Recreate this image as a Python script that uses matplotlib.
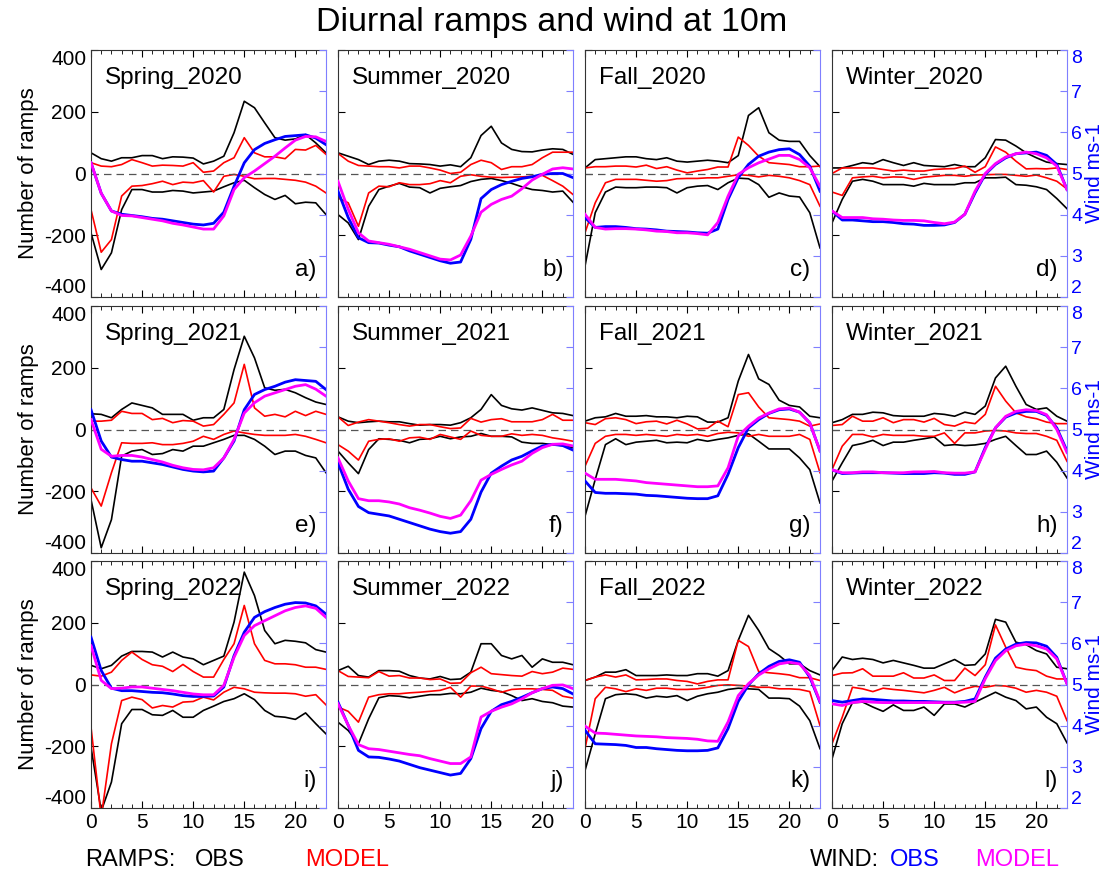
import matplotlib
matplotlib.use("Agg")
import matplotlib.pyplot as plt

plt.rcParams['font.family'] = ['Liberation Sans', 'DejaVu Sans']
plt.rcParams['axes.unicode_minus'] = False

hours = list(range(24))
seasons = ['Spring', 'Summer', 'Fall', 'Winter']
years = ['2020', '2021', '2022']
letters = ['a)', 'b)', 'c)', 'd)', 'e)', 'f)', 'g)', 'h)', 'i)', 'j)', 'k)', 'l)']
ramp_ticks = [-400, -200, 0, 200, 400]
wind_ticks = [2, 3, 4, 5, 6, 7, 8]

# ramps, observed, upward (upper black line)
obs_up = [
    [67, 48, 40, 51, 51, 58, 58, 48, 54, 53, 50, 31, 40, 56, 132, 234, 213, 164, 116, 108, 112, 126, 99, 67],
    [67, 56, 45, 29, 40, 43, 40, 32, 31, 29, 24, 28, 22, 51, 123, 153, 99, 78, 71, 70, 76, 80, 78, 62],
    [18, 45, 48, 51, 54, 54, 48, 45, 51, 40, 37, 40, 43, 40, 35, 58, 188, 213, 132, 108, 104, 104, 58, 22],
    [18, 18, 26, 35, 31, 45, 35, 26, 35, 26, 24, 22, 29, 22, 22, 51, 110, 108, 89, 67, 51, 37, 32, 29],
    [51, 49, 38, 65, 86, 78, 70, 49, 49, 49, 30, 38, 38, 65, 194, 302, 232, 135, 127, 130, 119, 103, 89, 81],
    [41, 27, 22, 25, 27, 25, 25, 19, 14, 16, 16, 14, 22, 38, 65, 113, 78, 67, 63, 70, 62, 54, 52, 45],
    [27, 38, 41, 52, 43, 43, 45, 41, 41, 38, 43, 41, 24, 24, 38, 157, 243, 164, 146, 95, 78, 73, 43, 38],
    [22, 32, 49, 49, 56, 54, 45, 43, 43, 43, 52, 49, 43, 56, 49, 76, 167, 205, 140, 81, 65, 70, 43, 27],
    [62, 51, 62, 92, 107, 107, 105, 89, 105, 89, 83, 64, 78, 92, 202, 364, 288, 175, 132, 143, 140, 135, 113, 105],
    [45, 59, 29, 24, 45, 45, 43, 29, 21, 18, 26, 16, 18, 40, 132, 132, 94, 83, 94, 56, 83, 72, 72, 64],
    [13, 24, 40, 40, 48, 29, 29, 29, 31, 29, 29, 35, 35, 27, 45, 143, 224, 175, 116, 94, 67, 67, 45, 31],
    [45, 89, 81, 85, 81, 70, 78, 70, 62, 53, 53, 67, 81, 62, 64, 99, 211, 202, 137, 129, 110, 99, 56, 51],
]
# ramps, observed, downward (lower black line)
obs_dn = [
    [-192, -311, -257, -117, -52, -52, -60, -60, -55, -57, -63, -60, -57, -43, -30, -22, -46, -68, -84, -71, -98, -93, -95, -133],
    [-133, -160, -214, -106, -52, -41, -32, -44, -46, -63, -48, -43, -39, -26, -19, -16, -23, -32, -43, -52, -55, -60, -57, -93],
    [-300, -127, -60, -44, -46, -46, -44, -44, -46, -63, -46, -41, -39, -52, -30, -15, -17, -36, -77, -63, -73, -76, -127, -241],
    [-160, -84, -25, -19, -25, -36, -36, -36, -41, -32, -36, -36, -36, -30, -30, -14, -14, -12, -36, -38, -43, -52, -81, -114],
    [-227, -383, -292, -86, -70, -65, -81, -78, -65, -70, -54, -54, -43, -32, -19, -19, -32, -54, -81, -70, -70, -84, -92, -140],
    [-70, -108, -143, -65, -30, -32, -35, -43, -32, -30, -22, -30, -24, -22, -13, -22, -22, -24, -41, -45, -45, -49, -52, -59],
    [-281, -162, -49, -30, -49, -41, -38, -35, -43, -41, -43, -32, -38, -32, -27, -19, -14, -38, -63, -63, -63, -92, -130, -238],
    [-167, -108, -52, -45, -35, -52, -41, -41, -35, -30, -24, -52, -49, -52, -50, -45, -32, -22, -52, -81, -81, -70, -106, -157],
    [-203, -410, -316, -127, -81, -81, -98, -100, -84, -106, -106, -84, -70, -55, -46, -30, -49, -84, -103, -106, -113, -92, -127, -160],
    [-122, -149, -192, -111, -43, -36, -38, -43, -38, -33, -33, -29, -30, -25, -12, -19, -23, -36, -52, -46, -55, -59, -70, -73],
    [-279, -160, -46, -33, -30, -33, -44, -38, -41, -36, -52, -38, -30, -25, -16, -12, -14, -16, -44, -44, -46, -70, -117, -208],
    [-241, -127, -59, -57, -73, -87, -66, -84, -84, -73, -100, -63, -63, -73, -57, -41, -25, -41, -52, -79, -73, -106, -127, -189],
]
# ramps, model, upward (upper red line)
mod_up = [
    [35, 24, 22, 29, 45, 35, 24, 27, 26, 24, 35, 4, 8, 35, 51, 116, 67, 54, 54, 48, 78, 76, 91, 62],
    [65, 40, 26, 24, 22, 22, 18, 24, 24, 18, 11, 0, 4, 29, 43, 35, 13, 22, 22, 29, 51, 69, 69, 69],
    [18, 22, 22, 24, 24, 21, 27, 16, 22, 11, 2, 8, 13, 21, 21, 118, 91, 56, 35, 32, 29, 22, 22, 24],
    [0, 18, 18, 18, 18, 13, 8, 11, 8, 8, 13, 15, 16, 24, 4, 22, 86, 69, 40, 15, 16, 15, 18, 13],
    [27, 27, 30, 59, 52, 52, 32, 36, 22, 29, 27, 11, 16, 49, 86, 211, 70, 43, 49, 41, 59, 45, 59, 49],
    [41, 13, 24, 32, 27, 22, 16, 11, 16, 16, 9, 3, 5, 36, 24, 32, 35, 25, 25, 25, 32, 49, 30, 30],
    [22, 16, 35, 38, 32, 19, 25, 27, 18, 30, 18, 2, 4, 27, 9, 113, 119, 73, 38, 35, 32, 27, 11, 18],
    [13, 16, 43, 27, 27, 38, 22, 32, 32, 24, 36, 16, 11, 24, 19, 49, 140, 92, 54, 41, 35, 24, 19, 19],
    [31, 27, 40, 78, 105, 81, 64, 59, 42, 65, 42, 24, 24, 81, 132, 256, 132, 78, 67, 67, 64, 56, 56, 49],
    [45, 26, 24, 22, 42, 27, 29, 21, 21, 16, 18, 4, 5, 38, 56, 35, 32, 29, 27, 42, 35, 40, 53, 49],
    [13, 24, 31, 24, 31, 15, 16, 18, 18, 13, 10, 2, 10, 15, 15, 143, 123, 42, 38, 35, 31, 22, 22, 13],
    [29, 37, 38, 51, 27, 27, 27, 38, 21, 21, 31, 13, 13, 53, 29, 64, 193, 121, 56, 49, 45, 27, 18, 18],
]
# ramps, model, downward (lower red line)
mod_dn = [
    [-117, -255, -214, -73, -41, -39, -33, -25, -36, -28, -30, -23, -60, -9, -3, -9, -17, -16, -16, -19, -22, -28, -41, -63],
    [-79, -95, -171, -63, -41, -43, -30, -36, -36, -33, -23, -30, -9, -4, -9, -12, -13, -12, -11, -9, -6, -23, -41, -68],
    [-192, -95, -30, -19, -19, -19, -22, -25, -23, -17, -16, -16, -14, -14, -9, -4, -6, -11, -6, -9, -14, -23, -36, -106],
    [-60, -71, -14, -11, -9, -14, -11, -12, -19, -12, -9, -6, -6, -9, -5, -4, -3, -3, -6, -9, -5, -14, -25, -50],
    [-189, -248, -140, -43, -45, -45, -43, -49, -49, -45, -38, -22, -32, -16, -5, -11, -16, -19, -19, -19, -16, -22, -32, -43],
    [-49, -70, -99, -38, -32, -30, -38, -27, -25, -32, -16, -24, -32, -5, -19, -22, -22, -14, -19, -16, -19, -27, -32, -38],
    [-119, -45, -22, -16, -16, -19, -16, -19, -22, -16, -19, -16, -22, -13, -9, -11, -22, -16, -22, -22, -22, -16, -32, -140],
    [-130, -54, -16, -16, -24, -16, -19, -19, -19, -22, -22, -11, -45, -11, -11, -5, -3, -5, -11, -13, -13, -22, -35, -103],
    [-138, -430, -192, -52, -41, -49, -76, -68, -73, -57, -55, -41, -50, -25, -9, -14, -25, -27, -28, -28, -30, -38, -33, -66],
    [-73, -87, -122, -41, -33, -30, -30, -27, -25, -22, -19, -9, -41, -5, -5, -14, -25, -16, -14, -14, -16, -19, -38, -44],
    [-208, -46, -9, -14, -23, -14, -19, -12, -12, -16, -16, -14, -9, -3, -1, -3, -5, -9, -9, -14, -14, -16, -23, -133],
    [-192, -106, -9, -14, -23, -12, -16, -19, -23, -27, -19, -9, -27, -14, -6, -9, -3, -5, -12, -25, -19, -25, -38, -117],
]
# wind at 10m, observed (m/s)
wind_obs = [
    [5.26, 4.52, 4.09, 4.01, 3.98, 3.95, 3.91, 3.89, 3.85, 3.81, 3.77, 3.75, 3.79, 4.06, 4.69, 5.26, 5.58, 5.73, 5.82, 5.90, 5.92, 5.94, 5.86, 5.70],
    [4.57, 3.93, 3.44, 3.32, 3.31, 3.26, 3.22, 3.12, 3.04, 2.96, 2.88, 2.82, 2.85, 3.40, 4.39, 4.61, 4.73, 4.81, 4.88, 4.92, 4.98, 5.00, 5.00, 4.90],
    [3.93, 3.69, 3.71, 3.71, 3.69, 3.66, 3.65, 3.63, 3.60, 3.59, 3.58, 3.56, 3.55, 3.65, 4.37, 4.90, 5.22, 5.42, 5.52, 5.58, 5.60, 5.46, 5.18, 4.57],
    [4.09, 3.87, 3.87, 3.85, 3.83, 3.83, 3.81, 3.78, 3.77, 3.74, 3.74, 3.75, 3.81, 4.01, 4.53, 4.98, 5.22, 5.38, 5.48, 5.50, 5.52, 5.44, 5.22, 4.61],
    [5.48, 4.72, 4.33, 4.27, 4.23, 4.23, 4.19, 4.15, 4.09, 4.03, 3.99, 3.97, 3.99, 4.31, 4.72, 5.48, 5.85, 5.97, 6.05, 6.15, 6.21, 6.19, 6.17, 5.97],
    [4.19, 3.55, 3.13, 2.98, 2.94, 2.90, 2.82, 2.74, 2.66, 2.58, 2.52, 2.48, 2.52, 2.82, 3.48, 3.94, 4.11, 4.26, 4.35, 4.48, 4.60, 4.64, 4.61, 4.50],
    [3.75, 3.47, 3.45, 3.45, 3.44, 3.43, 3.40, 3.39, 3.37, 3.35, 3.33, 3.32, 3.32, 3.39, 3.91, 4.56, 5.04, 5.24, 5.39, 5.48, 5.50, 5.42, 5.16, 4.48],
    [4.02, 3.93, 3.94, 3.95, 3.95, 3.95, 3.94, 3.93, 3.93, 3.93, 3.95, 3.94, 3.91, 3.91, 3.97, 4.56, 5.04, 5.30, 5.40, 5.44, 5.44, 5.34, 5.04, 4.48],
    [6.15, 5.34, 4.91, 4.85, 4.85, 4.83, 4.81, 4.80, 4.77, 4.73, 4.71, 4.71, 4.72, 4.94, 5.70, 6.27, 6.63, 6.77, 6.87, 6.95, 6.99, 6.98, 6.91, 6.71],
    [4.57, 4.01, 3.40, 3.24, 3.23, 3.19, 3.14, 3.06, 2.98, 2.92, 2.86, 2.80, 2.84, 3.20, 3.93, 4.35, 4.51, 4.59, 4.69, 4.80, 4.90, 4.94, 4.90, 4.77],
    [3.89, 3.56, 3.55, 3.54, 3.52, 3.47, 3.47, 3.44, 3.42, 3.40, 3.39, 3.39, 3.40, 3.46, 3.93, 4.59, 4.99, 5.26, 5.44, 5.56, 5.60, 5.54, 5.18, 4.57],
    [4.61, 4.57, 4.61, 4.65, 4.64, 4.62, 4.60, 4.60, 4.59, 4.59, 4.58, 4.57, 4.57, 4.59, 4.65, 5.18, 5.64, 5.86, 5.98, 6.02, 6.01, 5.93, 5.66, 5.02],
]
# wind at 10m, model (m/s)
wind_mod = [
    [5.26, 4.52, 4.09, 3.98, 3.97, 3.93, 3.89, 3.85, 3.79, 3.75, 3.70, 3.65, 3.65, 3.97, 4.61, 4.90, 5.06, 5.24, 5.42, 5.62, 5.81, 5.90, 5.89, 5.78],
    [4.81, 4.13, 3.56, 3.36, 3.32, 3.28, 3.22, 3.16, 3.08, 3.00, 2.92, 2.90, 3.02, 3.48, 4.06, 4.25, 4.37, 4.45, 4.63, 4.84, 4.98, 5.11, 5.14, 5.11],
    [4.01, 3.69, 3.65, 3.66, 3.66, 3.65, 3.63, 3.60, 3.59, 3.56, 3.56, 3.54, 3.51, 3.81, 4.45, 4.98, 5.14, 5.26, 5.35, 5.44, 5.44, 5.34, 5.14, 4.69],
    [4.09, 3.93, 3.93, 3.93, 3.90, 3.89, 3.87, 3.86, 3.86, 3.85, 3.81, 3.78, 3.82, 4.01, 4.57, 5.00, 5.24, 5.40, 5.48, 5.52, 5.48, 5.38, 5.18, 4.61],
    [5.24, 4.52, 4.35, 4.37, 4.37, 4.33, 4.27, 4.21, 4.13, 4.07, 4.03, 4.02, 4.07, 4.31, 4.76, 5.40, 5.65, 5.81, 5.89, 5.97, 6.05, 6.09, 5.98, 5.81],
    [4.31, 3.75, 3.32, 3.27, 3.27, 3.24, 3.19, 3.10, 3.04, 2.97, 2.89, 2.84, 2.92, 3.27, 3.77, 3.91, 4.03, 4.14, 4.23, 4.42, 4.56, 4.64, 4.65, 4.60],
    [3.94, 3.79, 3.79, 3.79, 3.77, 3.75, 3.71, 3.69, 3.67, 3.65, 3.63, 3.61, 3.61, 3.63, 4.07, 4.84, 5.08, 5.28, 5.40, 5.50, 5.52, 5.42, 5.16, 4.48],
    [4.02, 3.95, 3.95, 3.97, 3.97, 3.95, 3.95, 3.95, 3.97, 3.97, 3.98, 3.95, 3.94, 3.94, 3.97, 4.52, 5.04, 5.32, 5.44, 5.48, 5.46, 5.36, 5.00, 4.44],
    [5.94, 5.10, 4.90, 4.91, 4.94, 4.94, 4.91, 4.88, 4.85, 4.81, 4.77, 4.75, 4.75, 4.98, 5.66, 6.19, 6.43, 6.55, 6.67, 6.79, 6.87, 6.91, 6.85, 6.63],
    [4.53, 4.01, 3.54, 3.44, 3.42, 3.38, 3.34, 3.30, 3.27, 3.20, 3.14, 3.08, 3.08, 3.24, 4.21, 4.35, 4.45, 4.53, 4.65, 4.80, 4.90, 4.98, 4.99, 4.90],
    [3.99, 3.82, 3.81, 3.79, 3.77, 3.75, 3.74, 3.73, 3.71, 3.70, 3.69, 3.67, 3.63, 3.62, 4.09, 4.73, 5.02, 5.23, 5.38, 5.50, 5.54, 5.50, 5.22, 4.59],
    [4.53, 4.49, 4.56, 4.59, 4.57, 4.56, 4.56, 4.56, 4.56, 4.56, 4.56, 4.56, 4.56, 4.57, 4.59, 5.14, 5.58, 5.82, 5.94, 5.98, 5.94, 5.86, 5.62, 5.02],
]

W, H = 1104, 877
col_left = [91, 338, 585, 832]
row_top = [50, 306, 561]
pw, ph = 235, 247
spine_blue = '#7f7fff'

fig = plt.figure(figsize=(W / 100, H / 100), dpi=100)
fig.text(0.5, 1 - 22 / H, 'Diurnal ramps and wind at 10m', ha='center', va='center', fontsize=24.5)


def pull_in_end_labels(axis):
    # keep the first/last tick labels inside the panel height
    ticks = axis.get_major_ticks()
    for lab in (ticks[0].label1, ticks[0].label2):
        lab.set_va('bottom')
    for lab in (ticks[-1].label1, ticks[-1].label2):
        lab.set_va('top')


for r in range(3):
    for c in range(4):
        i = r * 4 + c
        ax = fig.add_axes([col_left[c] / W, 1 - (row_top[r] + ph) / H, pw / W, ph / H])
        ax.plot(hours, obs_up[i], color='black', lw=1.2)
        ax.plot(hours, obs_dn[i], color='black', lw=1.2)
        ax.plot(hours, mod_up[i], color='red', lw=1.2)
        ax.plot(hours, mod_dn[i], color='red', lw=1.2)
        ax.axhline(0, color='#555555', lw=0.9, ls=(0, (6, 4)))
        ax.set_xlim(0, 23)
        ax.set_ylim(-400, 400)
        ax.set_xticks([0, 5, 10, 15, 20])
        ax.set_xticks(hours, minor=True)
        ax.set_yticks(ramp_ticks, labels=[str(v) for v in ramp_ticks])
        ax.tick_params(direction='in', which='major', length=5, top=True, labelsize=15)
        ax.tick_params(direction='in', which='minor', length=3, top=True)
        pull_in_end_labels(ax.yaxis)
        if c != 0:
            ax.tick_params(labelleft=False)
        else:
            ax.set_ylabel('Number of ramps', fontsize=16, labelpad=4)
        if r != 2:
            ax.tick_params(labelbottom=False)
        for s in ['left', 'top', 'bottom']:
            ax.spines[s].set_color('#333333')
        ax.spines['right'].set_visible(False)
        ax.text(0.06, 0.885, seasons[c] + '_' + years[r], transform=ax.transAxes,
                fontsize=17.5, ha='left', va='center')
        ax.text(0.96, 0.11, letters[i], transform=ax.transAxes,
                fontsize=17.5, ha='right', va='center')

        ax2 = ax.twinx()
        ax2.plot(hours, wind_obs[i], color='blue', lw=2)
        ax2.plot(hours, wind_mod[i], color='magenta', lw=2)
        ax2.set_ylim(2, 8)
        ax2.set_xlim(0, 23)
        ax2.set_yticks(wind_ticks, labels=[str(v) for v in wind_ticks])
        ax2.tick_params(direction='in', length=5, colors=spine_blue, labelcolor='blue',
                        labelsize=14, pad=3)
        pull_in_end_labels(ax2.yaxis)
        ax2.spines['right'].set_color(spine_blue)
        for s in ['left', 'top', 'bottom']:
            ax2.spines[s].set_visible(False)
        if c != 3:
            ax2.tick_params(labelright=False)
        else:
            ax2.set_ylabel('Wind ms-1', color='blue', fontsize=15)
            ax2.yaxis.set_label_coords(1.075, 0.5)

ly = 1 - 860 / H
fig.text(85 / W, ly, 'RAMPS:', color='black', fontsize=17, va='center')
fig.text(195 / W, ly, 'OBS', color='black', fontsize=17, va='center')
fig.text(305 / W, ly, 'MODEL', color='red', fontsize=17, va='center')
fig.text(810 / W, ly, 'WIND:', color='black', fontsize=17, va='center')
fig.text(890 / W, ly, 'OBS', color='blue', fontsize=17, va='center')
fig.text(975 / W, ly, 'MODEL', color='magenta', fontsize=17, va='center')

fig.savefig('out.png', dpi=100)
